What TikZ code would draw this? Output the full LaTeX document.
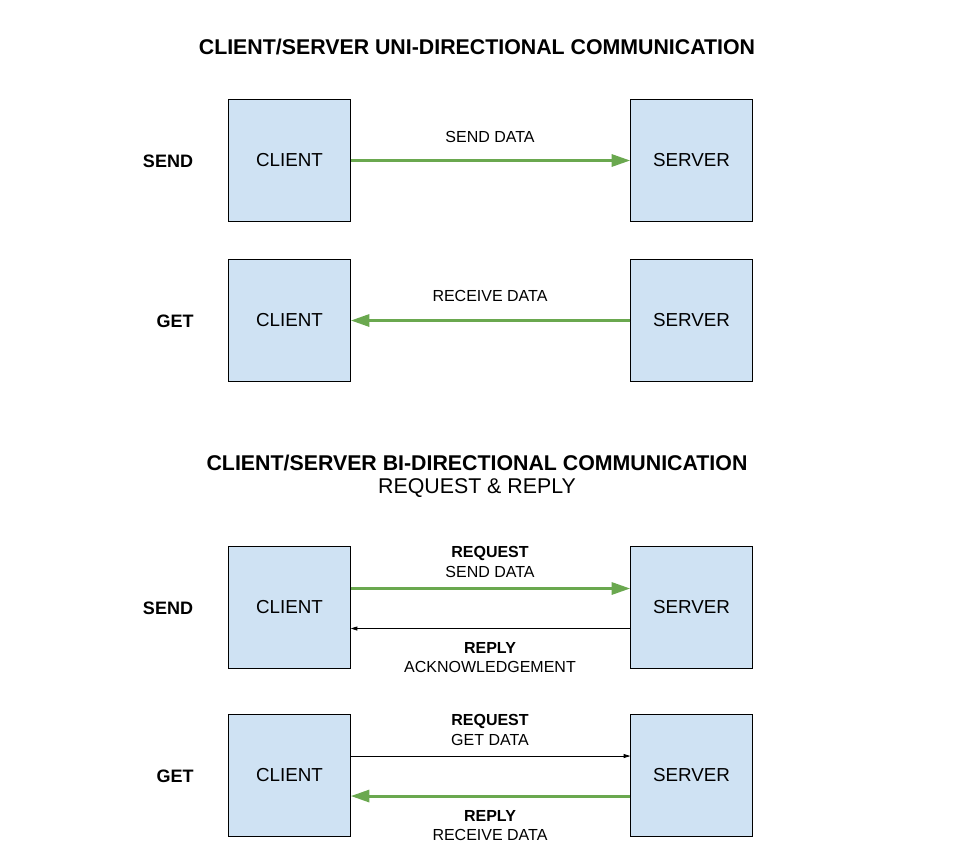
\documentclass[tikz,border=0pt]{standalone}
\usepackage{fontspec}
\setmainfont{Liberation Sans}
\usetikzlibrary{arrows.meta}
\definecolor{boxfill}{HTML}{CFE2F3}
\definecolor{arrgreen}{HTML}{6AA84F}
\begin{document}
\begin{tikzpicture}[x=0.75pt,y=-0.75pt,
  box/.style={draw=black,line width=0.8pt,fill=boxfill,minimum width=91pt,minimum height=91pt,inner sep=0pt,font=\fontsize{14.1}{17}\selectfont},
  title/.style={font=\fontsize{16}{19}\selectfont\bfseries},
  side/.style={font=\fontsize{13.5}{16}\selectfont\bfseries},
  lbl/.style={font=\fontsize{12}{14}\selectfont,inner sep=0pt},
  blbl/.style={font=\fontsize{12}{14}\selectfont\bfseries,inner sep=0pt},
  thick arrow/.style={draw=arrgreen,line width=2.3pt,-{Triangle[length=14pt,width=9pt]}},
  thin arrow/.style={draw=black,line width=0.6pt,-{Triangle[length=5pt,width=3pt]}}]
\useasboundingbox (0,0) rectangle (954,868);
% titles
\node[title] (t1) at (477,47) {CLIENT/SERVER UNI-DIRECTIONAL COMMUNICATION};
\node[title] (t2) at (477,463) {CLIENT/SERVER BI-DIRECTIONAL COMMUNICATION};
\node[font=\fontsize{16}{19}\selectfont] (t3) at (477,488) {REQUEST \& REPLY};
% row 1
\node[box] (c1) at (289.5,160.5) {CLIENT};
\node[box] (s1) at (691.5,160.5) {SERVER};
\node[side] (l1) at (168,161) {SEND};
\draw[thick arrow] (c1.east) -- (s1.west);
\node[lbl] (a1) at (490,137) {SEND DATA};
% row 2
\node[box] (c2) at (289.5,320.5) {CLIENT};
\node[box] (s2) at (691.5,320.5) {SERVER};
\node[side] (l2) at (175,321) {GET};
\draw[thick arrow] (s2.west) -- (c2.east);
\node[lbl] (a2) at (490,296) {RECEIVE DATA};
% row 3
\node[box] (c3) at (289.5,607.5) {CLIENT};
\node[box] (s3) at (691.5,607.5) {SERVER};
\node[side] (l3) at (168,608) {SEND};
\draw[thick arrow] ([yshift=14.25pt]c3.east) -- ([yshift=14.25pt]s3.west);
\draw[thin arrow] ([yshift=-15.75pt]s3.west) -- ([yshift=-15.75pt]c3.east);
\node[blbl] (a3) at (490,553) {REQUEST};
\node[lbl] (a4) at (490,572) {SEND DATA};
\node[blbl] (a5) at (490,648) {REPLY};
\node[lbl] (a6) at (490,667) {ACKNOWLEDGEMENT};
% row 4
\node[box] (c4) at (289.5,775.5) {CLIENT};
\node[box] (s4) at (691.5,775.5) {SERVER};
\node[side] (l4) at (175,776) {GET};
\draw[thin arrow] ([yshift=14.6pt]c4.east) -- ([yshift=14.6pt]s4.west);
\draw[thick arrow] ([yshift=-15.4pt]s4.west) -- ([yshift=-15.4pt]c4.east);
\node[blbl] (a7) at (490,721) {REQUEST};
\node[lbl] (a8) at (490,740) {GET DATA};
\node[blbl] (a9) at (490,816) {REPLY};
\node[lbl] (a10) at (490,835) {RECEIVE DATA};
\end{tikzpicture}
\end{document}
